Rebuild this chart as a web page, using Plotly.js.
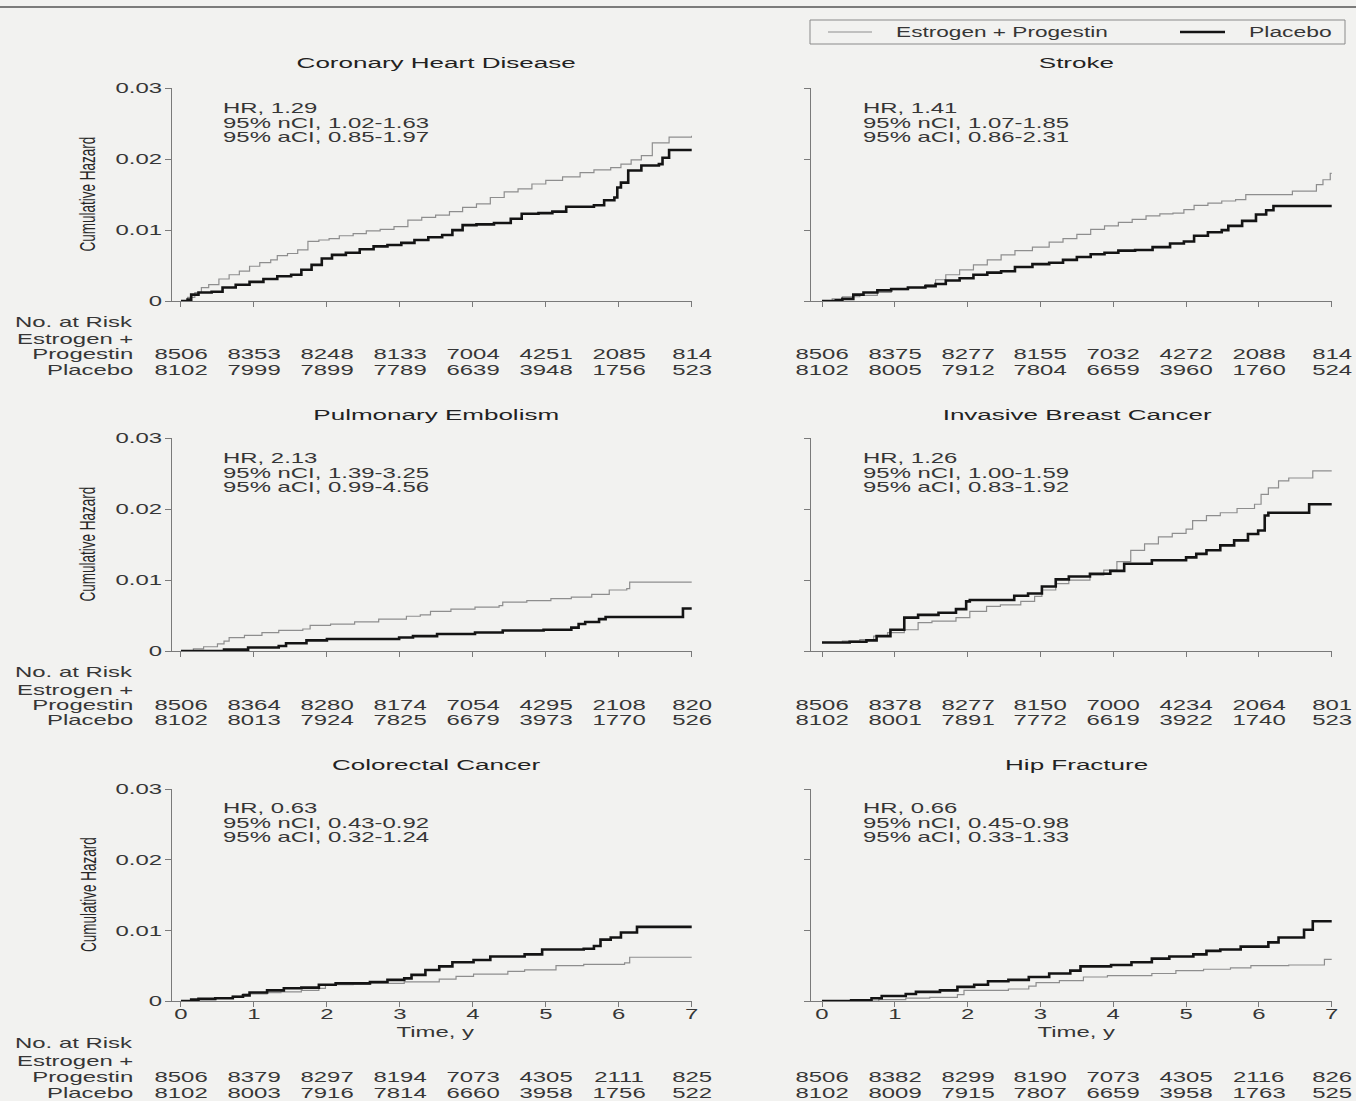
<!DOCTYPE html>
<html><head><meta charset="utf-8">
<script src="https://cdn.plot.ly/plotly-3.0.1.min.js"></script>
<style>html,body{margin:0;padding:0;background:#f2f2f0;} #chart{width:1356px;height:1101px;}</style>
</head><body><div id="chart"></div>
<script>
// ---------- DATA ----------
const titles = ["Coronary Heart Disease","Stroke","Pulmonary Embolism","Invasive Breast Cancer","Colorectal Cancer","Hip Fracture"];
const hrLabels = [
  ["HR, 1.29","95% nCI, 1.02-1.63","95% aCI, 0.85-1.97"],
  ["HR, 1.41","95% nCI, 1.07-1.85","95% aCI, 0.86-2.31"],
  ["HR, 2.13","95% nCI, 1.39-3.25","95% aCI, 0.99-4.56"],
  ["HR, 1.26","95% nCI, 1.00-1.59","95% aCI, 0.83-1.92"],
  ["HR, 0.63","95% nCI, 0.43-0.92","95% aCI, 0.32-1.24"],
  ["HR, 0.66","95% nCI, 0.45-0.98","95% aCI, 0.33-1.33"]
];
const seriesNames = ["Estrogen + Progestin","Placebo"];
const xTicks = [0,1,2,3,4,5,6,7];
const yTicks = [0,0.01,0.02,0.03];
const yTickText = ["0","0.01","0.02","0.03"];

// Coronary heart disease
const chdT_ep = [0,0.09,0.19,0.28,0.38,0.52,0.66,0.80,0.94,1.08,1.23,1.32,1.46,1.60,1.74,1.89,2.03,2.17,2.36,2.54,2.73,2.92,3.11,3.30,3.49,3.68,3.86,4.05,4.24,4.43,4.62,4.81,5.0,5.23,5.47,5.66,5.89,6.03,6.17,6.31,6.46,6.69,7.0];
const chdV_ep = [0,0.0005,0.0012,0.0019,0.0023,0.0031,0.0037,0.0042,0.0049,0.0054,0.0058,0.0064,0.0067,0.0072,0.0084,0.0086,0.0088,0.0092,0.0095,0.0099,0.0101,0.0105,0.0114,0.0118,0.0121,0.0126,0.0132,0.0137,0.0146,0.0154,0.0158,0.0165,0.017,0.0175,0.0181,0.0185,0.0188,0.0193,0.0199,0.0205,0.0223,0.0231,0.0233];
const chdT_pl = [0,0.09,0.14,0.24,0.42,0.57,0.75,0.94,1.13,1.32,1.51,1.65,1.79,1.93,2.07,2.26,2.45,2.64,2.83,3.02,3.20,3.39,3.58,3.72,3.86,4.05,4.29,4.52,4.67,4.90,5.09,5.28,5.66,5.80,5.94,5.98,6.03,6.13,6.31,6.55,6.60,6.69,7.0];
const chdV_pl = [0,0.0002,0.0009,0.0012,0.0013,0.0019,0.0023,0.0027,0.0031,0.0035,0.0037,0.0044,0.0051,0.006,0.0065,0.0068,0.0073,0.0077,0.0079,0.0082,0.0086,0.009,0.0093,0.01,0.0107,0.0108,0.011,0.0116,0.0123,0.0124,0.0126,0.0133,0.0135,0.0142,0.0146,0.016,0.0167,0.0184,0.0191,0.0193,0.0202,0.0213,0.0213];

// Stroke
const strT_ep = [0,0.14,0.28,0.52,0.76,0.95,1.18,1.42,1.56,1.70,1.89,2.08,2.27,2.46,2.65,2.89,3.12,3.31,3.50,3.69,3.88,4.07,4.26,4.45,4.64,4.82,4.97,5.11,5.30,5.49,5.68,5.82,6.46,6.79,6.88,6.98,7.0];
const strV_ep = [0,0.0003,0.0006,0.0008,0.0012,0.0016,0.0019,0.0023,0.003,0.0037,0.0044,0.0051,0.0058,0.0065,0.0071,0.0076,0.0083,0.0088,0.0094,0.0101,0.0106,0.0111,0.0115,0.012,0.0123,0.0124,0.0129,0.0135,0.0138,0.0141,0.0143,0.015,0.0155,0.0164,0.0171,0.018,0.018];
const strT_pl = [0,0.19,0.28,0.43,0.57,0.76,0.95,1.18,1.42,1.56,1.70,1.89,2.08,2.27,2.46,2.65,2.89,3.12,3.31,3.50,3.69,3.88,4.07,4.30,4.54,4.78,4.97,5.11,5.30,5.49,5.58,5.77,5.96,6.10,6.20,7.0];
const strV_pl = [0,0.0001,0.0003,0.0009,0.0012,0.0015,0.0017,0.0019,0.0021,0.0024,0.0029,0.0032,0.0037,0.004,0.0042,0.0048,0.0052,0.0054,0.0058,0.0062,0.0066,0.0068,0.0071,0.0072,0.0076,0.0081,0.0084,0.0092,0.0097,0.01,0.0106,0.0113,0.0122,0.0128,0.0134,0.0134];

// Pulmonary embolism
const peT_ep = [0,0.17,0.31,0.50,0.59,0.66,0.87,1.11,1.34,1.67,1.77,2.05,2.38,2.71,3.09,3.28,3.42,3.70,4.03,4.36,4.41,4.74,5.07,5.35,5.63,5.87,6.11,6.15,7.0];
const peV_ep = [0,0.0003,0.0006,0.001,0.0014,0.0019,0.0022,0.0026,0.0029,0.0031,0.0036,0.0038,0.0041,0.0045,0.0049,0.0051,0.0056,0.0059,0.0062,0.0064,0.0069,0.0071,0.0074,0.0076,0.008,0.0086,0.0088,0.0097,0.0097];
const peT_pl = [0,0.45,0.59,0.92,1.34,1.44,1.72,2.00,2.99,3.18,3.51,4.03,4.41,4.97,5.35,5.45,5.54,5.73,5.82,6.88,7.0];
const peV_pl = [0,0,0.0002,0.0005,0.0007,0.0011,0.0015,0.0017,0.0019,0.0021,0.0024,0.0026,0.0029,0.003,0.0033,0.0038,0.0041,0.0045,0.0048,0.006,0.006];

// Invasive breast cancer
const ibcT_ep = [0,0.28,0.52,0.71,0.90,1.13,1.32,1.51,1.84,2.03,2.26,2.45,2.73,2.92,3.02,3.21,3.39,3.68,3.87,4.05,4.24,4.43,4.62,4.81,5.0,5.09,5.28,5.47,5.70,5.94,6.03,6.13,6.27,6.41,6.74,7.0];
const ibcV_ep = [0.0012,0.0014,0.0016,0.0021,0.0026,0.003,0.004,0.0042,0.0047,0.0056,0.0063,0.0065,0.007,0.0077,0.0086,0.0095,0.01,0.0107,0.0114,0.0126,0.0142,0.0151,0.0161,0.0166,0.0172,0.0184,0.0191,0.0195,0.0201,0.0207,0.0221,0.023,0.024,0.0244,0.0254,0.0254];
const ibcT_pl = [0,0.38,0.61,0.75,0.94,1.13,1.32,1.60,1.84,1.98,2.03,2.64,2.83,3.02,3.21,3.39,3.68,3.96,4.15,4.53,5.0,5.14,5.28,5.47,5.66,5.85,5.99,6.08,6.13,6.69,7.0];
const ibcV_pl = [0.0012,0.0013,0.0015,0.0021,0.003,0.0047,0.0051,0.0054,0.0059,0.007,0.0072,0.0078,0.0081,0.0091,0.0101,0.0105,0.0109,0.0113,0.0123,0.0128,0.0132,0.0137,0.0142,0.0149,0.0156,0.0165,0.017,0.0191,0.0195,0.0207,0.0207];

// Colorectal cancer
const crcT_ep = [0,0.24,0.47,0.71,0.85,1.18,1.37,1.65,1.89,1.98,2.36,2.59,3.06,3.54,3.77,4.01,4.48,4.71,5.14,5.52,6.08,6.15,7.0];
const crcV_ep = [0,0.0002,0.0004,0.0007,0.001,0.0012,0.0013,0.0015,0.0018,0.0023,0.0024,0.0025,0.0027,0.0031,0.0035,0.0038,0.0042,0.0044,0.005,0.0052,0.0054,0.0062,0.0062];
const crcT_pl = [0,0.14,0.24,0.47,0.71,0.85,0.94,1.18,1.41,1.65,1.89,2.12,2.59,2.83,3.06,3.16,3.35,3.54,3.72,4.01,4.24,4.71,4.95,5.52,5.66,5.75,5.89,6.03,6.25,7.0];
const crcV_pl = [0,0.0002,0.0003,0.0004,0.0006,0.0008,0.0012,0.0015,0.0018,0.0019,0.0023,0.0025,0.0027,0.003,0.0032,0.0037,0.0044,0.0049,0.0055,0.0058,0.0063,0.0066,0.0073,0.0074,0.0078,0.0087,0.009,0.0097,0.0105,0.0105];

// Hip fracture
const hipT_ep = [0,0.78,1.15,1.48,1.86,1.95,2.56,2.84,2.94,3.26,3.59,3.92,4.53,4.86,5.24,5.61,5.89,6.41,6.90,7.0];
const hipV_ep = [0,0.0002,0.0004,0.0005,0.0009,0.0015,0.0017,0.0021,0.0026,0.0029,0.0034,0.0036,0.0039,0.0043,0.0045,0.0047,0.005,0.0051,0.0059,0.0059];
const hipT_pl = [0,0.40,0.68,0.82,1.15,1.29,1.62,1.86,2.09,2.28,2.56,2.84,3.12,3.41,3.55,3.97,4.25,4.53,4.77,5.10,5.28,5.47,5.75,6.13,6.27,6.62,6.74,7.0];
const hipV_pl = [0,0.0001,0.0004,0.0007,0.001,0.0013,0.0015,0.002,0.0023,0.0028,0.003,0.0034,0.0039,0.0043,0.0049,0.0051,0.0055,0.006,0.0063,0.0066,0.0071,0.0073,0.0077,0.0083,0.009,0.0101,0.0113,0.0113];

// Number at risk
const chdRisk_ep = [8506,8353,8248,8133,7004,4251,2085,814];
const chdRisk_pl = [8102,7999,7899,7789,6639,3948,1756,523];
const strRisk_ep = [8506,8375,8277,8155,7032,4272,2088,814];
const strRisk_pl = [8102,8005,7912,7804,6659,3960,1760,524];
const peRisk_ep  = [8506,8364,8280,8174,7054,4295,2108,820];
const peRisk_pl  = [8102,8013,7924,7825,6679,3973,1770,526];
const ibcRisk_ep = [8506,8378,8277,8150,7000,4234,2064,801];
const ibcRisk_pl = [8102,8001,7891,7772,6619,3922,1740,523];
const crcRisk_ep = [8506,8379,8297,8194,7073,4305,2111,825];
const crcRisk_pl = [8102,8003,7916,7814,6660,3958,1756,522];
const hipRisk_ep = [8506,8382,8299,8190,7073,4305,2116,826];
const hipRisk_pl = [8102,8009,7915,7807,6659,3958,1763,525];

// ---------- BUILD ----------
const panels = [
  {t1:chdT_ep,v1:chdV_ep,t2:chdT_pl,v2:chdV_pl,r1:chdRisk_ep,r2:chdRisk_pl},
  {t1:strT_ep,v1:strV_ep,t2:strT_pl,v2:strV_pl,r1:strRisk_ep,r2:strRisk_pl},
  {t1:peT_ep,v1:peV_ep,t2:peT_pl,v2:peV_pl,r1:peRisk_ep,r2:peRisk_pl},
  {t1:ibcT_ep,v1:ibcV_ep,t2:ibcT_pl,v2:ibcV_pl,r1:ibcRisk_ep,r2:ibcRisk_pl},
  {t1:crcT_ep,v1:crcV_ep,t2:crcT_pl,v2:crcV_pl,r1:crcRisk_ep,r2:crcRisk_pl},
  {t1:hipT_ep,v1:hipV_ep,t2:hipT_pl,v2:hipV_pl,r1:hipRisk_ep,r2:hipRisk_pl}
];

const W = 1356, H = 1101;
const px = x => x / W;
const py = y => 1 - y / H;
const FONT = '"Liberation Sans", Arial, Helvetica, sans-serif';
const TXT = '#363636';
const AX = '#7a7a7a';
const EPCOL = '#8e8e8e', PLCOL = '#141414';
const K = 1.65;

const colX = [[172, 692, -0.123], [811, 1332, -0.151]];
const rowY = [[88, 301], [438, 651], [789, 1001]];
const titleY = [63, 414, 764];
const hrY = [108, 458, 808];
const hrX = [222, 862];
const riskY = [[322, 339, 354, 370], [672, 690, 705, 720], [1043, 1061, 1077, 1093]];

const data = [];
const layout = {
  width: W, height: H,
  margin: {l: 0, r: 0, t: 0, b: 0},
  paper_bgcolor: '#f2f2f0', plot_bgcolor: '#f2f2f0',
  showlegend: false, hovermode: false,
  font: {family: FONT, color: TXT, size: 14.5},
  annotations: [], shapes: []
};
const stretch = [];
function addText(text, x, y, o) {
  o = o || {};
  layout.annotations.push({
    text: text, x: x, y: y, xref: o.xref || 'paper', yref: 'paper',
    xanchor: o.anchor || 'left', yanchor: 'middle', showarrow: false,
    textangle: o.angle || 0, borderpad: 0,
    font: {family: FONT, size: o.size || 14.5, color: o.color || TXT}
  });
  stretch.push({anchor: o.anchor || 'left', k: o.k || K, rot: !!o.angle});
}

panels.forEach((p, i) => {
  const r = Math.floor(i / 2), c = i % 2;
  const sfx = i === 0 ? '' : String(i + 1);
  const xa = 'x' + sfx, ya = 'y' + sfx;
  data.push({x: p.t1, y: p.v1, xaxis: xa, yaxis: ya, mode: 'lines', name: seriesNames[0],
    line: {shape: 'hv', color: EPCOL, width: 1.2}});
  data.push({x: p.t2, y: p.v2, xaxis: xa, yaxis: ya, mode: 'lines', name: seriesNames[1],
    line: {shape: 'hv', color: PLCOL, width: 2.6}});
  layout['xaxis' + sfx] = {
    domain: [px(colX[c][0]), px(colX[c][1])], range: [colX[c][2], 7.004], anchor: ya,
    tickmode: 'array', tickvals: xTicks, ticktext: xTicks.map(String), showticklabels: r === 2,
    ticks: 'outside', ticklen: 5, tickcolor: AX, tickwidth: 1,
    showline: true, linecolor: AX, linewidth: 1, showgrid: false, zeroline: false,
    tickfont: {family: FONT, size: 14.5, color: TXT}, fixedrange: true
  };
  layout['yaxis' + sfx] = {
    domain: [py(rowY[r][1]), py(rowY[r][0])], range: [0, 0.03004], anchor: xa,
    tickmode: 'array', tickvals: yTicks, ticktext: yTickText, showticklabels: c === 0,
    ticks: 'outside', ticklen: 6, tickcolor: AX, tickwidth: 1,
    showline: true, linecolor: AX, linewidth: 1, showgrid: false, zeroline: false,
    tickfont: {family: FONT, size: 14.5, color: TXT}, fixedrange: true
  };
  addText(titles[i], 3.5, py(titleY[r]), {xref: xa, anchor: 'center', size: 15.5, k: 1.68, color: '#222'});
  hrLabels[i].forEach((s, l) => addText(s, px(hrX[c]), py(hrY[r] + 14.5 * l)));
  xTicks.forEach((t, j) => {
    addText(String(p.r1[j]), t, py(riskY[r][2]), {xref: xa, anchor: 'center'});
    addText(String(p.r2[j]), t, py(riskY[r][3]), {xref: xa, anchor: 'center'});
  });
  if (c === 0) {
    addText('Cumulative Hazard', px(88), py((rowY[r][0] + rowY[r][1]) / 2), {anchor: 'center', angle: -90, size: 13.5, color: '#262626', k: 1.6});
    addText('No. at Risk', px(14), py(riskY[r][0]));
    addText('Estrogen +', px(16), py(riskY[r][1]));
    addText('Progestin', px(134), py(riskY[r][2]), {anchor: 'right'});
    addText('Placebo', px(134), py(riskY[r][3]), {anchor: 'right'});
  }
  if (r === 2) {
    addText('Time, y', 3.5, py(1032), {xref: xa, anchor: 'center'});
  }
});

// legend (drawn manually) and top rule
layout.shapes.push({type: 'line', xref: 'paper', yref: 'paper', x0: 0, x1: 1, y0: py(7), y1: py(7), line: {color: '#555', width: 1.5}});
layout.shapes.push({type: 'rect', xref: 'paper', yref: 'paper', x0: px(810), x1: px(1345), y0: py(44), y1: py(20), line: {color: '#8a8a8a', width: 1}});
layout.shapes.push({type: 'line', xref: 'paper', yref: 'paper', x0: px(828), x1: px(872), y0: py(32), y1: py(32), line: {color: EPCOL, width: 1.2}});
layout.shapes.push({type: 'line', xref: 'paper', yref: 'paper', x0: px(1180), x1: px(1225), y0: py(32), y1: py(32), line: {color: PLCOL, width: 2.6}});
addText(seriesNames[0], px(895), py(32), {k: 1.56});
addText(seriesNames[1], px(1248), py(32), {k: 1.58});

function stretchEl(t, anchor, k, rot, dy) {
  const bb = t.getBBox();
  const prev = t.getAttribute('transform') || '';
  if (rot) {
    const cy = bb.y + bb.height / 2;
    t.setAttribute('transform', prev + ' translate(0,' + cy + ') scale(1,' + k + ') translate(0,' + (-cy) + ')');
  } else {
    const ax = anchor === 'left' ? bb.x : anchor === 'right' ? bb.x + bb.width : bb.x + bb.width / 2;
    t.setAttribute('transform', prev + ' translate(' + ax + ',' + (dy || 0) + ') scale(' + k + ',1) translate(' + (-ax) + ',0)');
  }
}

const gd = document.getElementById('chart');
Plotly.newPlot(gd, data, layout, {staticPlot: true, displayModeBar: false}).then(() => {
  gd.querySelectorAll('g.annotation').forEach(g => {
    const i = +g.getAttribute('data-index');
    const s = stretch[i];
    const t = g.querySelector('text.annotation-text');
    if (t && s) stretchEl(t, s.anchor, s.k, s.rot);
  });
  gd.querySelectorAll('.yaxislayer-above text').forEach(t => stretchEl(t, 'right', K, false, 0));
  gd.querySelectorAll('.xaxislayer-above text').forEach(t => stretchEl(t, 'center', K, false, -5));
});
</script></body></html>
